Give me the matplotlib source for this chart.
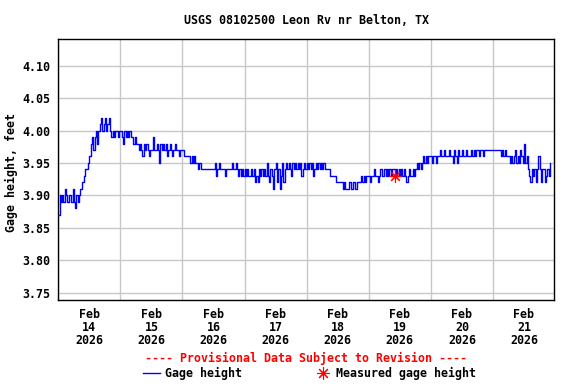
import matplotlib
matplotlib.use('Agg')
import matplotlib.pyplot as plt
import matplotlib.dates as mdates
from matplotlib.lines import Line2D
import pandas as pd

station = 'USGS 08102500 Leon Rv nr Belton, TX'
start = '2026-02-14 00:00'

# gage height, feet, every 30 minutes
feb14 = [3.87, 3.90, 3.89, 3.90, 3.89, 3.91, 3.90, 3.89, 3.90, 3.90, 3.89, 3.91,
         3.89, 3.88, 3.90, 3.89, 3.90, 3.91, 3.92, 3.92, 3.93, 3.94, 3.94, 3.95,
         3.96, 3.98, 3.99, 3.97, 3.99, 4.00, 3.98, 4.00, 4.01, 4.02, 4.00, 4.01,
         4.02, 4.00, 4.01, 4.02, 4.00, 3.99, 4.00, 3.99, 4.00, 4.00, 3.99, 4.00]
feb15 = [4.00, 3.99, 3.98, 4.00, 3.99, 4.00, 3.99, 4.00, 3.99, 3.99, 3.98, 3.99,
         3.98, 3.98, 3.97, 3.98, 3.97, 3.96, 3.98, 3.97, 3.98, 3.97, 3.96, 3.97,
         3.97, 3.99, 3.97, 3.97, 3.98, 3.97, 3.95, 3.98, 3.97, 3.98, 3.97, 3.98,
         3.96, 3.97, 3.98, 3.97, 3.96, 3.97, 3.98, 3.97, 3.97, 3.96, 3.97, 3.97]
feb16 = [3.97, 3.96, 3.96, 3.96, 3.96, 3.96, 3.95, 3.96, 3.95, 3.96, 3.95, 3.95,
         3.94, 3.95, 3.94, 3.94, 3.94, 3.94, 3.94, 3.94, 3.94, 3.94, 3.94, 3.94,
         3.94, 3.95, 3.93, 3.94, 3.95, 3.94, 3.94, 3.94, 3.94, 3.93, 3.94, 3.94,
         3.94, 3.94, 3.95, 3.94, 3.94, 3.95, 3.94, 3.93, 3.94, 3.93, 3.94, 3.93]
feb17 = [3.94, 3.93, 3.94, 3.93, 3.93, 3.94, 3.93, 3.94, 3.92, 3.93, 3.92, 3.94,
         3.93, 3.94, 3.93, 3.94, 3.93, 3.95, 3.93, 3.92, 3.94, 3.93, 3.91, 3.94,
         3.95, 3.92, 3.94, 3.91, 3.93, 3.95, 3.92, 3.94, 3.95, 3.94, 3.95, 3.94,
         3.93, 3.95, 3.94, 3.95, 3.94, 3.95, 3.94, 3.95, 3.93, 3.94, 3.95, 3.94]
feb18 = [3.95, 3.94, 3.95, 3.94, 3.95, 3.93, 3.94, 3.95, 3.94, 3.95, 3.94, 3.95,
         3.94, 3.95, 3.94, 3.94, 3.94, 3.94, 3.93, 3.93, 3.93, 3.93, 3.93, 3.92,
         3.92, 3.92, 3.92, 3.92, 3.91, 3.92, 3.91, 3.91, 3.91, 3.92, 3.91, 3.91,
         3.92, 3.91, 3.91, 3.92, 3.92, 3.92, 3.93, 3.92, 3.93, 3.92, 3.93, 3.93]
feb19 = [3.93, 3.92, 3.93, 3.93, 3.94, 3.93, 3.93, 3.92, 3.93, 3.94, 3.93, 3.93,
         3.94, 3.93, 3.94, 3.93, 3.94, 3.93, 3.94, 3.94, 3.93, 3.94, 3.93, 3.94,
         3.93, 3.94, 3.93, 3.94, 3.93, 3.92, 3.93, 3.94, 3.93, 3.93, 3.94, 3.93,
         3.94, 3.95, 3.94, 3.95, 3.94, 3.95, 3.96, 3.95, 3.96, 3.95, 3.96, 3.96]
feb20 = [3.96, 3.95, 3.96, 3.96, 3.95, 3.96, 3.96, 3.97, 3.96, 3.96, 3.97, 3.96,
         3.96, 3.96, 3.97, 3.96, 3.96, 3.95, 3.97, 3.96, 3.95, 3.97, 3.96, 3.96,
         3.97, 3.96, 3.96, 3.97, 3.96, 3.96, 3.96, 3.97, 3.96, 3.97, 3.96, 3.97,
         3.97, 3.96, 3.97, 3.97, 3.96, 3.97, 3.97, 3.97, 3.97, 3.97, 3.97, 3.97]
feb21 = [3.97, 3.97, 3.97, 3.97, 3.97, 3.97, 3.96, 3.97, 3.96, 3.97, 3.96, 3.96,
         3.96, 3.95, 3.96, 3.95, 3.96, 3.97, 3.95, 3.96, 3.95, 3.97, 3.96, 3.95,
         3.98, 3.95, 3.96, 3.94, 3.93, 3.92, 3.94, 3.93, 3.94, 3.92, 3.94, 3.96,
         3.94, 3.92, 3.94, 3.94, 3.92, 3.93, 3.94, 3.93, 3.95]

gage_height = feb14 + feb15 + feb16 + feb17 + feb18 + feb19 + feb20 + feb21
times = pd.date_range(start, periods=len(gage_height), freq='30min')

measured_time = pd.Timestamp('2026-02-19 10:00')
measured_height = 3.93

y_ticks = [3.75, 3.80, 3.85, 3.90, 3.95, 4.00, 4.05, 4.10]

plt.rcParams['font.family'] = 'DejaVu Sans Mono'
plt.rcParams['font.weight'] = 'bold'
plt.rcParams['font.size'] = 8.4

W, H = 576, 384
fig = plt.figure(figsize=(W / 100, H / 100), dpi=100)
left, right, top, bottom = 58.3, 554.0, 39.3, 300.0
ax = fig.add_axes([left / W, 1 - bottom / H, (right - left) / W, (bottom - top) / H])

ax.plot(times, gage_height, color='#0000ff', lw=1.0, drawstyle='steps-post', zorder=3)
ax.plot([measured_time], [measured_height], ls='none', marker=(8, 2, 0),
        ms=9, mew=0.8, color='red', zorder=4)

t0 = pd.Timestamp(start)
ax.set_xlim(t0, t0 + pd.Timedelta(hours=23.6 + 7 * 24))
ax.set_ylim(3.7387, 4.1407)

ax.xaxis.set_major_locator(mdates.HourLocator(byhour=[12]))
ax.xaxis.set_major_formatter(mdates.DateFormatter('%b\n%d\n%Y'))
ax.xaxis.set_minor_locator(mdates.DayLocator())
ax.set_yticks(y_ticks)
ax.set_yticklabels([f'{v:.2f}' for v in y_ticks])

ax.tick_params(which='both', length=0)
ax.tick_params(axis='x', pad=6)
ax.tick_params(axis='y', pad=6)
for lab in ax.get_xticklabels():
    lab.set_linespacing(0.98)
ax.grid(which='minor', axis='x', color='#c8c8c8', lw=1.0)
ax.grid(which='major', axis='y', color='#c8c8c8', lw=1.0)
ax.grid(which='major', axis='x', visible=False)
for s in ax.spines.values():
    s.set_linewidth(1.0)

ax.set_title(station, pad=11, fontsize=8.4, fontweight='bold')
fig.text(11 / W, 1 - 172 / H, 'Gage height, feet', rotation=90,
         ha='center', va='center')

fig.text(306 / W, 1 - 358 / H, '---- Provisional Data Subject to Revision ----',
         color='red', ha='center', va='center')
fig.add_artist(Line2D([142.6 / W, 160 / W], [1 - 373 / H] * 2, color='#0000ff', lw=1.0))
fig.text(165.4 / W, 1 - 373 / H, 'Gage height', ha='left', va='center')
fig.add_artist(Line2D([322.8 / W], [1 - 372.5 / H], ls='none', marker=(8, 2, 0),
                      ms=9, mew=0.8, color='red'))
fig.text(336.4 / W, 1 - 373 / H, 'Measured gage height', ha='left', va='center')

fig.savefig('out.png', dpi=100)
